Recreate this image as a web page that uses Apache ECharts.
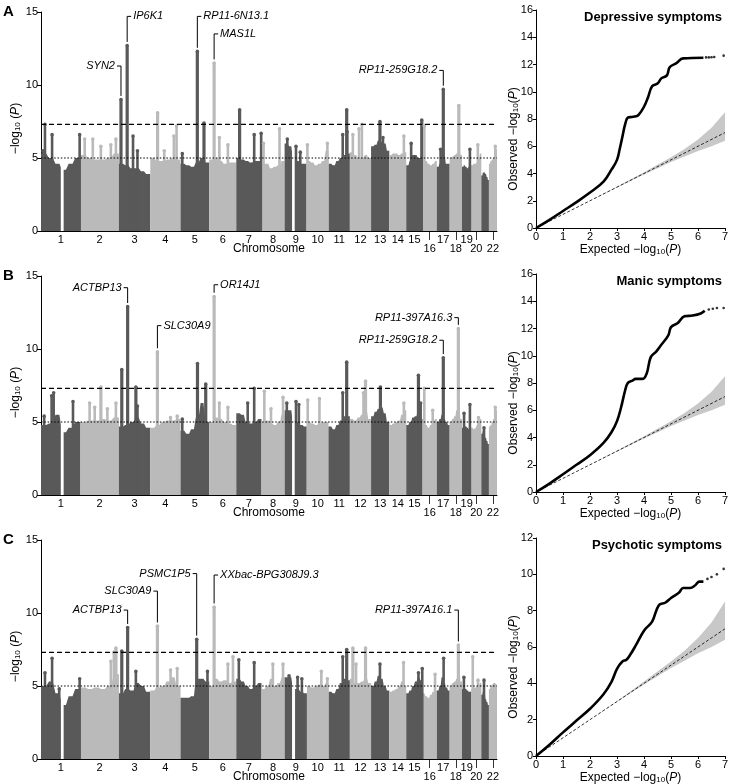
<!DOCTYPE html>
<html>
<head>
<meta charset="utf-8">
<script src="https://cdn.jsdelivr.net/npm/echarts@6/dist/echarts.min.js"></script>
<style>
html, body { margin: 0; padding: 0; background: #fff; }
#main { width: 729px; height: 784px; }
</style>
</head>
<body>
<div id="main"></div>
<script>
// chromosome lengths (Mb) and label layout
var chromLen = [249, 243, 198, 191, 181, 171, 159, 146, 141, 136, 135, 134, 115, 107, 103, 90, 81, 78, 59, 63, 48, 51];
var lowLabels = [16, 18, 20, 22];
var gaps = [[1, 125, 143], [9, 47, 66]]; // chr, start Mb, end Mb (no SNPs)
var sigLevel = 7.3;
var sugLevel = 5;

var panelLetters = ['A', 'B', 'C'];
var qqTitles = ['Depressive symptoms', 'Manic symptoms', 'Psychotic symptoms'];
var qqMax = [16, 16, 12];

// top of the dense cloud, six samples along each chromosome (-log10 P)
var profileA = [
  [5.3, 5.0, 4.6, 4.2, 4.6, 5.0], [5.2, 5.0, 4.9, 4.9, 5.0, 5.3], [4.6, 4.5, 4.3, 4.3, 4.1, 3.9],
  [5.0, 4.8, 4.8, 4.9, 5.0, 4.9], [4.6, 4.5, 4.4, 4.7, 5.0, 4.7], [4.9, 5.0, 4.8, 4.6, 4.7, 4.7],
  [5.0, 4.9, 4.8, 4.7, 4.8, 4.8], [4.6, 4.6, 4.3, 4.4, 4.5, 4.8], [6.0, 5.8, 5.0, 4.8, 4.6, 4.6],
  [4.8, 4.7, 4.5, 4.6, 4.8, 5.5], [4.6, 4.5, 4.8, 5.0, 5.2, 5.3], [5.4, 5.2, 5.0, 5.0, 5.2, 5.0],
  [5.8, 5.9, 6.2, 6.1, 6.0, 5.5], [5.2, 5.3, 5.3, 5.2, 5.3, 5.4], [4.5, 4.8, 5.2, 5.2, 5.0, 5.0],
  [5.0, 4.8, 4.6, 4.5, 4.6, 4.8], [4.4, 4.6, 5.0, 5.1, 4.6, 4.6], [5.0, 5.1, 5.2, 5.3, 5.5, 5.2],
  [4.4, 4.5, 4.4, 4.3, 4.4, 4.5], [4.5, 4.6, 4.6, 4.7, 5.0, 5.3], [3.8, 4.0, 4.0, 3.9, 3.7, 3.5],
  [4.6, 4.8, 4.9, 5.0, 5.2, 5.6]
];
var profileB = [
  [4.8, 4.9, 5.5, 4.3, 4.6, 5.0], [5.0, 5.1, 5.1, 5.2, 5.1, 5.3], [4.7, 4.8, 5.0, 5.3, 4.9, 4.6],
  [4.6, 4.8, 5.0, 5.1, 5.1, 5.2], [4.4, 4.2, 4.5, 5.3, 6.3, 5.0], [5.0, 5.3, 5.2, 5.0, 4.9, 4.8],
  [5.6, 5.5, 5.0, 4.9, 5.0, 5.2], [5.0, 5.1, 4.9, 4.8, 5.0, 5.5], [5.8, 5.8, 5.0, 5.0, 4.8, 4.7],
  [5.0, 4.9, 4.8, 4.9, 5.0, 5.0], [4.7, 4.5, 4.8, 5.1, 5.4, 5.4], [5.2, 5.1, 5.3, 5.5, 5.8, 5.2],
  [5.4, 5.7, 5.9, 6.0, 5.6, 5.0], [4.8, 4.9, 5.0, 5.1, 5.5, 5.8], [4.8, 5.0, 5.3, 5.4, 5.8, 5.2],
  [5.0, 4.8, 4.6, 4.8, 5.0, 5.2], [5.0, 5.2, 5.5, 5.2, 5.0, 4.8], [5.0, 5.2, 5.4, 5.8, 6.5, 5.2],
  [4.6, 4.8, 4.7, 4.6, 4.5, 4.6], [4.6, 4.5, 4.6, 4.8, 5.0, 5.2], [4.2, 4.4, 4.2, 3.9, 3.7, 3.5],
  [4.7, 4.8, 5.0, 5.2, 5.5, 5.8]
];
var profileC = [
  [5.0, 5.3, 4.5, 3.7, 4.3, 4.8], [4.9, 4.8, 4.9, 4.8, 5.0, 5.8], [4.5, 4.8, 4.7, 5.2, 5.0, 4.6],
  [4.7, 4.9, 5.0, 5.3, 5.6, 5.0], [4.2, 4.2, 4.3, 5.5, 5.5, 5.3], [5.0, 5.5, 5.3, 5.4, 5.2, 5.3],
  [5.5, 5.3, 5.0, 4.8, 5.0, 5.2], [4.8, 5.0, 5.5, 5.0, 5.2, 5.6], [5.6, 5.6, 4.8, 4.8, 4.6, 4.5],
  [5.0, 4.9, 5.0, 5.1, 5.0, 5.2], [4.6, 4.5, 4.8, 5.2, 5.5, 5.4], [5.5, 5.2, 5.2, 5.3, 5.6, 5.2],
  [5.0, 5.3, 5.7, 5.5, 5.0, 4.7], [4.6, 4.7, 4.8, 5.0, 5.3, 5.0], [4.5, 4.7, 5.0, 5.3, 5.6, 5.4],
  [4.5, 4.3, 4.2, 4.4, 4.6, 4.7], [4.7, 5.0, 5.6, 5.2, 4.9, 4.7], [5.0, 5.2, 5.3, 5.5, 6.5, 5.3],
  [4.8, 4.9, 4.8, 4.7, 4.6, 4.6], [4.8, 4.9, 4.9, 5.0, 5.1, 5.2], [4.4, 4.6, 4.5, 4.1, 3.9, 3.7],
  [4.8, 5.0, 5.1, 5.2, 5.2, 5.1]
];

// columns of SNPs rising above the cloud: [chr, position Mb, -log10 P]
var spikesA = [
  [1, 12, 5.5], [1, 25, 7.3], [1, 70, 6.6], [1, 244, 6.6],
  [2, 27, 6.3], [2, 78, 6.3], [2, 129, 5.8], [2, 192, 5.9], [2, 224, 6.3],
  [3, 13, 9.0], [3, 52, 12.7], [3, 89, 6.5], [3, 117, 5.5],
  [4, 46, 8.1], [4, 88, 5.5], [4, 149, 6.5], [4, 166, 7.2],
  [5, 11, 5.3], [5, 106, 12.3], [5, 148, 7.4],
  [6, 31, 11.5], [6, 64, 6.4], [6, 118, 5.9],
  [7, 21, 8.3], [7, 113, 6.6], [7, 157, 6.7],
  [8, 13, 6.0], [8, 114, 7.0],
  [9, 17, 6.3], [9, 72, 5.8], [9, 99, 5.4],
  [10, 3, 5.9], [10, 129, 6.0],
  [11, 90, 6.6], [11, 115, 8.3], [11, 118, 6.8],
  [12, 19, 6.6], [12, 58, 7.0], [12, 76, 7.3],
  [13, 56, 7.5], [13, 75, 6.4],
  [14, 92, 6.5],
  [15, 31, 6.0], [15, 98, 7.6],
  [16, 11, 7.2],
  [17, 24, 5.6], [17, 41, 9.7],
  [18, 58, 8.6],
  [19, 50, 5.6],
  [20, 41, 5.9],
  [22, 40, 5.8]
];
var spikesB = [
  [1, 20, 5.4], [1, 67, 6.8], [1, 80, 7.0], [1, 202, 6.4],
  [2, 58, 6.3], [2, 90, 6.0], [2, 129, 7.4], [2, 170, 5.9], [2, 224, 6.3],
  [3, 18, 8.6], [3, 55, 12.9], [3, 107, 7.4], [3, 117, 6.1],
  [4, 45, 9.8], [4, 128, 5.3], [4, 170, 5.4],
  [5, 11, 5.2], [5, 107, 9.0], [5, 159, 7.6],
  [6, 31, 13.6], [6, 64, 6.3], [6, 118, 6.0],
  [7, 72, 6.3], [7, 113, 7.3],
  [8, 18, 7.1], [8, 60, 5.9], [8, 136, 6.7],
  [9, 14, 6.3], [9, 72, 6.4], [9, 90, 6.2],
  [10, 5, 6.5], [10, 79, 6.6],
  [11, 90, 7.0], [11, 115, 9.1],
  [12, 86, 7.0], [12, 99, 7.8],
  [13, 59, 7.4],
  [14, 92, 6.3],
  [15, 77, 8.2], [15, 91, 6.3],
  [16, 11, 7.3], [16, 64, 5.8],
  [17, 41, 9.4],
  [18, 55, 11.4],
  [19, 13, 5.6], [19, 50, 6.2],
  [20, 45, 5.3],
  [21, 17, 4.6],
  [22, 40, 6.0]
];
var spikesC = [
  [1, 25, 5.9], [1, 70, 6.9], [1, 115, 4.8], [1, 244, 5.5],
  [2, 192, 6.7], [2, 211, 7.3], [2, 224, 7.6],
  [3, 18, 7.4], [3, 55, 9.0], [3, 107, 6.0],
  [4, 45, 9.1], [4, 128, 6.1], [4, 170, 6.2],
  [5, 102, 8.2], [5, 170, 6.0],
  [6, 31, 10.4], [6, 118, 6.5], [6, 150, 7.0],
  [7, 16, 6.8], [7, 113, 6.6],
  [8, 72, 6.5], [8, 136, 6.5],
  [9, 28, 5.7], [9, 82, 5.6], [9, 109, 5.5],
  [10, 91, 6.0], [10, 129, 5.5],
  [11, 90, 7.0], [11, 115, 7.5],
  [12, 19, 7.6], [12, 39, 6.5], [12, 99, 7.6],
  [13, 56, 6.5],
  [14, 90, 6.6],
  [15, 77, 5.9], [15, 101, 6.2],
  [16, 79, 5.8],
  [17, 43, 6.9],
  [18, 55, 7.8],
  [19, 12, 5.6],
  [20, 9, 7.0], [20, 42, 5.4],
  [21, 17, 5.4]
];

// labelled loci: [gene, chr, position Mb, peak -log10 P]
var genesA = [['SYN2', 3, 13, 9.0], ['IP6K1', 3, 52, 12.7], ['RP11-6N13.1', 5, 106, 12.3], ['MAS1L', 6, 31, 11.5], ['RP11-259G18.2', 17, 41, 9.7]];
var genesB = [['ACTBP13', 3, 55, 12.9], ['SLC30A9', 4, 45, 9.8], ['OR14J1', 6, 31, 13.6], ['RP11-259G18.2', 17, 41, 9.4], ['RP11-397A16.3', 18, 55, 11.4]];
var genesC = [['ACTBP13', 3, 55, 9.0], ['SLC30A9', 4, 45, 9.1], ['PSMC1P5', 5, 102, 8.2], ['XXbac-BPG308J9.3', 6, 31, 10.4], ['RP11-397A16.1', 18, 55, 7.8]];
// label height (-log10 P units) and side of the leader line
var labelA = [[11.3, 'left'], [14.7, 'right'], [14.7, 'right'], [13.5, 'right'], [11.0, 'left']];
var labelB = [[14.2, 'left'], [11.6, 'right'], [14.4, 'right'], [10.6, 'left'], [12.15, 'left']];
var labelC = [[10.2, 'left'], [11.5, 'left'], [12.7, 'left'], [12.6, 'right'], [10.2, 'left']];

// QQ curves
var qqExpA = [0, 0.5, 1, 1.5, 2, 2.5, 2.8, 3.0, 3.1, 3.2, 3.3, 3.4, 3.55, 3.7, 3.8, 4.0, 4.15, 4.3, 4.5, 4.65, 4.85, 4.95, 5.2, 5.45, 6.2];
var qqObsA = [0, 0.6, 1.25, 1.9, 2.6, 3.4, 4.3, 5.0, 5.8, 6.7, 7.6, 8.1, 8.15, 8.2, 8.3, 8.9, 9.6, 10.4, 10.6, 11.0, 11.2, 11.8, 12.1, 12.45, 12.5];
var qqTailExpA = [6.3, 6.4, 6.5, 6.6, 6.95];
var qqTailObsA = [12.52, 12.52, 12.53, 12.55, 12.65];
var qqExpB = [0, 0.5, 1, 1.5, 2, 2.5, 2.8, 3.0, 3.15, 3.3, 3.4, 3.55, 3.7, 3.95, 4.1, 4.25, 4.45, 4.6, 4.9, 5.0, 5.25, 5.5, 5.8, 6.1, 6.25];
var qqObsB = [0, 0.62, 1.3, 2.0, 2.7, 3.6, 4.4, 5.2, 6.2, 7.45, 8.0, 8.15, 8.3, 8.3, 8.7, 9.9, 10.3, 10.7, 11.5, 12.1, 12.4, 12.9, 12.95, 13.1, 13.3];
var qqTailExpB = [6.4, 6.55, 6.7, 6.95];
var qqTailObsB = [13.4, 13.45, 13.5, 13.5];
var qqExpC = [0, 0.5, 1, 1.5, 2, 2.5, 2.8, 3.0, 3.2, 3.35, 3.5, 3.7, 4.0, 4.3, 4.55, 4.8, 5.0, 5.3, 5.45, 5.7, 5.9, 6.05, 6.2];
var qqObsC = [0, 0.62, 1.3, 1.95, 2.6, 3.4, 4.1, 4.8, 5.2, 5.3, 5.6, 6.1, 6.9, 7.4, 8.3, 8.45, 8.7, 9.0, 9.25, 9.25, 9.4, 9.6, 9.6];
var qqTailExpC = [6.35, 6.5, 6.7, 6.95];
var qqTailObsC = [9.75, 9.85, 10.0, 10.3];
// null expectation with 95% band
var nullExp = [0, 1, 2, 3, 4, 5, 5.5, 6, 6.5, 7];
var nullLow = [0, 1, 2, 2.98, 3.93, 4.85, 5.25, 5.65, 6.0, 6.4];
var nullHigh = [0, 1, 2, 3.02, 4.1, 5.2, 5.8, 6.5, 7.35, 8.5];

var FONT = '"Liberation Sans", Arial, Helvetica, sans-serif';
var DARK = '#595959', LIGHT = '#bababa';

var chromStart = [], acc = 0;
chromLen.forEach(function (l) { chromStart.push(acc); acc += l; });
var genomeLen = acc;
var centers = chromLen.map(function (l, i) { return chromStart[i] + l / 2; });
var lowCenters = centers.filter(function (c, i) { return lowLabels.indexOf(i + 1) >= 0; });

function chromColor(i) { return i % 2 === 0 ? DARK : LIGHT; }

// each sample is a short plateau, joined by slopes
function bandRender(profile) {
  return function (params, api) {
    var c = api.value(2);
    var start = chromStart[c], len = chromLen[c], prof = profile[c], n = prof.length;
    var pts = [api.coord([start, 0]), api.coord([start, prof[0]])];
    for (var i = 0; i < n; i++) {
      pts.push(api.coord([start + len * (i + 0.2) / n, prof[i]]));
      pts.push(api.coord([start + len * (i + 0.8) / n, prof[i]]));
    }
    pts.push(api.coord([start + len, prof[n - 1]]));
    pts.push(api.coord([start + len, 0]));
    return { type: 'polygon', shape: { points: pts }, style: { fill: chromColor(c) } };
  };
}

function gapRender(params, api) {
  var a = api.coord([api.value(0), 0]);
  var b = api.coord([api.value(1), 6.5]);
  return { type: 'rect', shape: { x: a[0], y: b[1], width: Math.max(b[0] - a[0], 1.5), height: a[1] - b[1] }, style: { fill: '#fff' } };
}

function spikeRender(params, api) {
  var top = api.coord([api.value(0), api.value(1)]);
  var bot = api.coord([api.value(0), 0]);
  var col = chromColor(api.value(2));
  var w = api.value(1) > sigLevel ? 3.2 : 2.6;
  return {
    type: 'group', children: [
      { type: 'rect', shape: { x: top[0] - w / 2, y: top[1], width: w, height: bot[1] - top[1] }, style: { fill: col } },
      { type: 'circle', shape: { cx: top[0], cy: top[1], r: 1.8 }, style: { fill: col } }
    ]
  };
}

function geneRender(genes, layout) {
  return function (params, api) {
    var g = genes[params.dataIndex], lay = layout[params.dataIndex];
    var x = chromStart[g[1] - 1] + g[2];
    var top = api.coord([x, lay[0]]);
    var bot = api.coord([x, g[3] + 0.25]);
    var dir = lay[1] === 'right' ? 1 : -1;
    return {
      type: 'group', children: [
        { type: 'polyline', shape: { points: [[top[0] + dir * 4, top[1]], [top[0], top[1]], [bot[0], bot[1]]] },
          style: { stroke: '#000', lineWidth: 1, fill: null } },
        { type: 'text', x: top[0] + dir * 6, y: top[1],
          style: { text: g[0], fill: '#000', fontSize: 11, fontStyle: 'italic', fontFamily: FONT,
                   align: dir > 0 ? 'left' : 'right', verticalAlign: 'middle' } }
      ]
    };
  };
}

function bandQQRender(params, api) {
  var pts = [];
  for (var i = 0; i < nullExp.length; i++) pts.push(api.coord([nullExp[i], nullHigh[i]]));
  for (var j = nullExp.length - 1; j >= 0; j--) pts.push(api.coord([nullExp[j], nullLow[j]]));
  return { type: 'polygon', shape: { points: pts }, style: { fill: '#c8c8c8' } };
}

var profiles = [profileA, profileB, profileC];
var spikes = [spikesA, spikesB, spikesC];
var genes = [genesA, genesB, genesC];
var labels = [labelA, labelB, labelC];
var qqExp = [qqExpA, qqExpB, qqExpC], qqObs = [qqObsA, qqObsB, qqObsC];
var qqTailExp = [qqTailExpA, qqTailExpB, qqTailExpC], qqTailObs = [qqTailObsA, qqTailObsB, qqTailObsC];

var logRich = {
  sub: { fontSize: 8, fontFamily: FONT, color: '#000', padding: [5, 0, 0, 0] },
  it: { fontSize: 12, fontFamily: FONT, color: '#000', fontStyle: 'italic' }
};

var grids = [], xAxes = [], yAxes = [], series = [], titles = [];
for (var k = 0; k < 3; k++) {
  var off = 264 * k;
  // Manhattan
  grids.push({ left: 41, width: 456, top: 12 + off, height: 219, outerBoundsMode: 'none', containLabel: false });
  // QQ
  grids.push({ left: 536, width: 189, top: 10 + off, height: 218, outerBoundsMode: 'none', containLabel: false });
  var gm = 2 * k, gq = 2 * k + 1;

  xAxes.push({
    type: 'value', gridIndex: gm, min: 0, max: genomeLen,
    axisLine: { lineStyle: { color: '#000', width: 1 } }, splitLine: { show: false },
    axisTick: { customValues: lowCenters, length: 9, lineStyle: { color: '#000', width: 0.8 } },
    axisLabel: {
      customValues: centers, fontSize: 11, color: '#000', fontFamily: FONT, margin: 3,
      showMinLabel: true, showMaxLabel: true, hideOverlap: false,
      formatter: function (v) {
        var n = centers.indexOf(v) + 1;
        return lowLabels.indexOf(n) >= 0 ? '{lo|' + n + '}' : String(n);
      },
      rich: { lo: { fontSize: 11, color: '#000', fontFamily: FONT, padding: [9, 0, 0, 0] } }
    },
    name: 'Chromosome', nameLocation: 'middle', nameGap: 12, nameMoveOverlap: false,
    nameTextStyle: { fontSize: 12, color: '#000', fontFamily: FONT }
  });
  yAxes.push({
    type: 'value', gridIndex: gm, min: 0, max: 15, interval: 5,
    axisLine: { show: true, lineStyle: { color: '#000', width: 1 } }, splitLine: { show: false },
    axisTick: { show: true, length: 4, lineStyle: { color: '#000' } },
    axisLabel: { fontSize: 11, color: '#000', fontFamily: FONT, margin: 3 },
    name: '−log{sub|10} ({it|P})', nameLocation: 'middle', nameGap: 19, nameMoveOverlap: false,
    nameTextStyle: { fontSize: 12, color: '#000', fontFamily: FONT, rich: logRich, padding: [0, 14, 0, 0] }
  });
  xAxes.push({
    type: 'value', gridIndex: gq, min: 0, max: 7, interval: 1,
    axisLine: { lineStyle: { color: '#000', width: 1 } }, splitLine: { show: false },
    axisTick: { show: true, length: 3, lineStyle: { color: '#000' } },
    axisLabel: { fontSize: 11, color: '#000', fontFamily: FONT, margin: 3, showMaxLabel: true },
    name: 'Expected −log{sub|10}({it|P})', nameLocation: 'middle', nameGap: 15, nameMoveOverlap: false,
    nameTextStyle: { fontSize: 12, color: '#000', fontFamily: FONT, rich: logRich }
  });
  yAxes.push({
    type: 'value', gridIndex: gq, min: 0, max: qqMax[k], interval: 2,
    axisLine: { show: true, lineStyle: { color: '#000', width: 1 } }, splitLine: { show: false },
    axisTick: { show: true, length: 3, lineStyle: { color: '#000' } },
    axisLabel: { fontSize: 11, color: '#000', fontFamily: FONT, margin: 3 },
    name: 'Observed −log{sub|10}({it|P})', nameLocation: 'middle', nameGap: 16, nameMoveOverlap: false,
    nameTextStyle: { fontSize: 12, color: '#000', fontFamily: FONT, rich: logRich, padding: [0, 40, 0, 0] }
  });

  var xm = 2 * k, xq = 2 * k + 1;
  series.push({
    type: 'custom', xAxisIndex: xm, yAxisIndex: xm, z: 1, silent: true,
    renderItem: bandRender(profiles[k]),
    data: chromLen.map(function (l, i) { return [chromStart[i] + l / 2, 0, i]; })
  });
  series.push({
    type: 'custom', xAxisIndex: xm, yAxisIndex: xm, z: 2, silent: true,
    renderItem: gapRender,
    data: gaps.map(function (g) { return [chromStart[g[0] - 1] + g[1], chromStart[g[0] - 1] + g[2]]; })
  });
  series.push({
    type: 'custom', xAxisIndex: xm, yAxisIndex: xm, z: 3, silent: true,
    renderItem: spikeRender,
    data: spikes[k].map(function (s) { return [chromStart[s[0] - 1] + s[1], s[2], s[0] - 1]; })
  });
  series.push({
    type: 'line', xAxisIndex: xm, yAxisIndex: xm, z: 4, symbol: 'none', silent: true,
    lineStyle: { color: '#000', width: 1.2, type: [5, 3] },
    data: [[0, sigLevel], [genomeLen, sigLevel]]
  });
  series.push({
    type: 'line', xAxisIndex: xm, yAxisIndex: xm, z: 4, symbol: 'none', silent: true,
    lineStyle: { color: '#000', width: 1.2, type: [1.5, 1.8] },
    data: [[0, sugLevel], [genomeLen, sugLevel]]
  });
  series.push({
    type: 'custom', xAxisIndex: xm, yAxisIndex: xm, z: 5, silent: true,
    renderItem: geneRender(genes[k], labels[k]),
    data: genes[k].map(function (g) { return [chromStart[g[1] - 1] + g[2], g[3]]; })
  });

  // QQ
  series.push({
    type: 'custom', xAxisIndex: xq, yAxisIndex: xq, z: 1, silent: true,
    renderItem: bandQQRender, data: [[0, 0]]
  });
  series.push({
    type: 'line', xAxisIndex: xq, yAxisIndex: xq, z: 2, symbol: 'none', silent: true,
    lineStyle: { color: '#000', width: 0.8, type: [3, 2] },
    data: [[0, 0], [7, 7]]
  });
  series.push({
    type: 'line', xAxisIndex: xq, yAxisIndex: xq, z: 3, symbol: 'none', silent: true,
    smooth: 0.4,
    lineStyle: { color: '#000', width: 2.6 },
    data: qqExp[k].map(function (e, i) { return [e, qqObs[k][i]]; })
  });
  series.push({
    type: 'scatter', xAxisIndex: xq, yAxisIndex: xq, z: 3, silent: true,
    symbolSize: 2.6, itemStyle: { color: '#000' },
    data: qqTailExp[k].map(function (e, i) { return [e, qqTailObs[k][i]]; })
  });

  titles.push({ text: panelLetters[k], left: 3, top: 4 + off, padding: 0,
    textStyle: { fontSize: 15, fontWeight: 'bold', color: '#000', fontFamily: FONT } });
  titles.push({ text: qqTitles[k], right: 7, top: 11 + off, padding: 0,
    textStyle: { fontSize: 13, fontWeight: 'bold', color: '#000', fontFamily: FONT } });
}

var chart = echarts.init(document.getElementById('main'), null, { renderer: 'canvas' });
chart.setOption({
  backgroundColor: '#fff',
  animation: false,
  textStyle: { fontFamily: FONT },
  title: titles,
  grid: grids,
  xAxis: xAxes,
  yAxis: yAxes,
  series: series
});
</script>
</body>
</html>
